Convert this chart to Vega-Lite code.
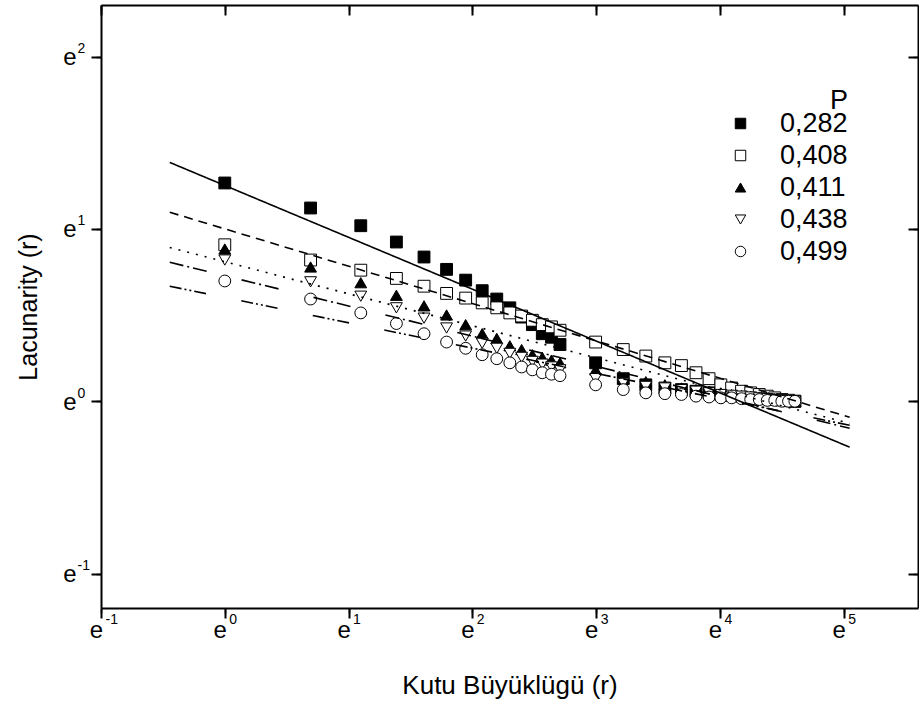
{
 "$schema": "https://vega.github.io/schema/vega-lite/v6.json",
 "width": 817, "height": 603,
 "autosize": {"type": "none"},
 "padding": {"left": 101, "top": 5, "right": 1, "bottom": 105},
 "background": "white",
 "config": {
  "view": {"stroke": null},
  "legend": {"labelFont": "Liberation Sans", "titleFont": "Liberation Sans", "labelFontSize": 27, "titleFontSize": 27, "titleFontWeight": "normal", "labelColor": "black", "titleColor": "black", "symbolSize": 110, "symbolStrokeWidth": 1, "rowPadding": 4, "labelOffset": 26, "titlePadding": -5}
 },
 "datasets": {
  "pts": [
   {"r":1,"L":3.55,"P":"0,282"},{"r":2,"L":3.07,"P":"0,282"},{"r":3,"L":2.77,"P":"0,282"},{"r":4,"L":2.52,"P":"0,282"},{"r":5,"L":2.31,"P":"0,282"},{"r":6,"L":2.15,"P":"0,282"},{"r":7,"L":2.02,"P":"0,282"},{"r":8,"L":1.90,"P":"0,282"},{"r":9,"L":1.81,"P":"0,282"},{"r":10,"L":1.72,"P":"0,282"},{"r":11,"L":1.63,"P":"0,282"},{"r":12,"L":1.56,"P":"0,282"},{"r":13,"L":1.48,"P":"0,282"},{"r":14,"L":1.45,"P":"0,282"},{"r":15,"L":1.39,"P":"0,282"},{"r":20,"L":1.25,"P":"0,282"},{"r":25,"L":1.14,"P":"0,282"},{"r":30,"L":1.10,"P":"0,282"},{"r":35,"L":1.08,"P":"0,282"},{"r":40,"L":1.07,"P":"0,282"},{"r":45,"L":1.06,"P":"0,282"},{"r":50,"L":1.05,"P":"0,282"},{"r":55,"L":1.04,"P":"0,282"},{"r":60,"L":1.035,"P":"0,282"},{"r":65,"L":1.03,"P":"0,282"},{"r":70,"L":1.025,"P":"0,282"},{"r":75,"L":1.02,"P":"0,282"},{"r":80,"L":1.015,"P":"0,282"},{"r":85,"L":1.01,"P":"0,282"},{"r":90,"L":1.007,"P":"0,282"},{"r":95,"L":1.003,"P":"0,282"},{"r":100,"L":1.0,"P":"0,282"},
   {"r":1,"L":2.48,"P":"0,408"},{"r":2,"L":2.27,"P":"0,408"},{"r":3,"L":2.14,"P":"0,408"},{"r":4,"L":2.04,"P":"0,408"},{"r":5,"L":1.95,"P":"0,408"},{"r":6,"L":1.87,"P":"0,408"},{"r":7,"L":1.82,"P":"0,408"},{"r":8,"L":1.77,"P":"0,408"},{"r":9,"L":1.72,"P":"0,408"},{"r":10,"L":1.67,"P":"0,408"},{"r":11,"L":1.64,"P":"0,408"},{"r":12,"L":1.60,"P":"0,408"},{"r":13,"L":1.56,"P":"0,408"},{"r":14,"L":1.54,"P":"0,408"},{"r":15,"L":1.51,"P":"0,408"},{"r":20,"L":1.41,"P":"0,408"},{"r":25,"L":1.35,"P":"0,408"},{"r":30,"L":1.30,"P":"0,408"},{"r":35,"L":1.25,"P":"0,408"},{"r":40,"L":1.23,"P":"0,408"},{"r":45,"L":1.18,"P":"0,408"},{"r":50,"L":1.14,"P":"0,408"},{"r":55,"L":1.10,"P":"0,408"},{"r":60,"L":1.08,"P":"0,408"},{"r":65,"L":1.06,"P":"0,408"},{"r":70,"L":1.05,"P":"0,408"},{"r":75,"L":1.04,"P":"0,408"},{"r":80,"L":1.03,"P":"0,408"},{"r":85,"L":1.02,"P":"0,408"},{"r":90,"L":1.01,"P":"0,408"},{"r":95,"L":1.006,"P":"0,408"},{"r":100,"L":1.0,"P":"0,408"},
   {"r":1,"L":2.42,"P":"0,411"},{"r":2,"L":2.18,"P":"0,411"},{"r":3,"L":1.99,"P":"0,411"},{"r":4,"L":1.85,"P":"0,411"},{"r":5,"L":1.74,"P":"0,411"},{"r":6,"L":1.65,"P":"0,411"},{"r":7,"L":1.56,"P":"0,411"},{"r":8,"L":1.48,"P":"0,411"},{"r":9,"L":1.44,"P":"0,411"},{"r":10,"L":1.38,"P":"0,411"},{"r":11,"L":1.35,"P":"0,411"},{"r":12,"L":1.31,"P":"0,411"},{"r":13,"L":1.29,"P":"0,411"},{"r":14,"L":1.27,"P":"0,411"},{"r":15,"L":1.25,"P":"0,411"},{"r":20,"L":1.20,"P":"0,411"},{"r":25,"L":1.14,"P":"0,411"},{"r":30,"L":1.12,"P":"0,411"},{"r":35,"L":1.10,"P":"0,411"},{"r":40,"L":1.08,"P":"0,411"},{"r":45,"L":1.07,"P":"0,411"},{"r":50,"L":1.06,"P":"0,411"},{"r":55,"L":1.05,"P":"0,411"},{"r":60,"L":1.04,"P":"0,411"},{"r":65,"L":1.035,"P":"0,411"},{"r":70,"L":1.03,"P":"0,411"},{"r":75,"L":1.025,"P":"0,411"},{"r":80,"L":1.02,"P":"0,411"},{"r":85,"L":1.015,"P":"0,411"},{"r":90,"L":1.01,"P":"0,411"},{"r":95,"L":1.005,"P":"0,411"},{"r":100,"L":1.0,"P":"0,411"},
   {"r":1,"L":2.27,"P":"0,438"},{"r":2,"L":2.00,"P":"0,438"},{"r":3,"L":1.84,"P":"0,438"},{"r":4,"L":1.72,"P":"0,438"},{"r":5,"L":1.62,"P":"0,438"},{"r":6,"L":1.53,"P":"0,438"},{"r":7,"L":1.46,"P":"0,438"},{"r":8,"L":1.40,"P":"0,438"},{"r":9,"L":1.36,"P":"0,438"},{"r":10,"L":1.32,"P":"0,438"},{"r":11,"L":1.29,"P":"0,438"},{"r":12,"L":1.26,"P":"0,438"},{"r":13,"L":1.24,"P":"0,438"},{"r":14,"L":1.22,"P":"0,438"},{"r":15,"L":1.20,"P":"0,438"},{"r":20,"L":1.14,"P":"0,438"},{"r":25,"L":1.11,"P":"0,438"},{"r":30,"L":1.09,"P":"0,438"},{"r":35,"L":1.08,"P":"0,438"},{"r":40,"L":1.07,"P":"0,438"},{"r":45,"L":1.06,"P":"0,438"},{"r":50,"L":1.05,"P":"0,438"},{"r":55,"L":1.04,"P":"0,438"},{"r":60,"L":1.035,"P":"0,438"},{"r":65,"L":1.03,"P":"0,438"},{"r":70,"L":1.025,"P":"0,438"},{"r":75,"L":1.02,"P":"0,438"},{"r":80,"L":1.015,"P":"0,438"},{"r":85,"L":1.01,"P":"0,438"},{"r":90,"L":1.007,"P":"0,438"},{"r":95,"L":1.003,"P":"0,438"},{"r":100,"L":1.0,"P":"0,438"},
   {"r":1,"L":2.01,"P":"0,499"},{"r":2,"L":1.81,"P":"0,499"},{"r":3,"L":1.67,"P":"0,499"},{"r":4,"L":1.57,"P":"0,499"},{"r":5,"L":1.48,"P":"0,499"},{"r":6,"L":1.41,"P":"0,499"},{"r":7,"L":1.36,"P":"0,499"},{"r":8,"L":1.31,"P":"0,499"},{"r":9,"L":1.28,"P":"0,499"},{"r":10,"L":1.25,"P":"0,499"},{"r":11,"L":1.22,"P":"0,499"},{"r":12,"L":1.20,"P":"0,499"},{"r":13,"L":1.18,"P":"0,499"},{"r":14,"L":1.17,"P":"0,499"},{"r":15,"L":1.16,"P":"0,499"},{"r":20,"L":1.10,"P":"0,499"},{"r":25,"L":1.07,"P":"0,499"},{"r":30,"L":1.05,"P":"0,499"},{"r":35,"L":1.045,"P":"0,499"},{"r":40,"L":1.04,"P":"0,499"},{"r":45,"L":1.03,"P":"0,499"},{"r":50,"L":1.025,"P":"0,499"},{"r":55,"L":1.02,"P":"0,499"},{"r":60,"L":1.02,"P":"0,499"},{"r":65,"L":1.015,"P":"0,499"},{"r":70,"L":1.01,"P":"0,499"},{"r":75,"L":1.01,"P":"0,499"},{"r":80,"L":1.005,"P":"0,499"},{"r":85,"L":1.005,"P":"0,499"},{"r":90,"L":1.0,"P":"0,499"},{"r":95,"L":1.0,"P":"0,499"},{"r":100,"L":1.0,"P":"0,499"}
  ],
  "fits": [
   {"r":0.641,"L":4.00,"fit":"f282"},{"r":155.7,"L":0.766,"fit":"f282"},
   {"r":0.641,"L":2.995,"fit":"f408"},{"r":155.7,"L":0.911,"fit":"f408"},
   {"r":0.641,"L":2.44,"fit":"f411"},{"r":155.7,"L":0.880,"fit":"f411"},
   {"r":0.641,"L":2.24,"fit":"f438"},{"r":155.7,"L":0.855,"fit":"f438"},
   {"r":0.641,"L":1.95,"fit":"f499"},{"r":155.7,"L":0.870,"fit":"f499"}
  ]
 },
 "resolve": {"axis": {"x": "independent", "y": "independent"}},
 "layer": [
  {
   "data": {"name": "pts"},
   "mark": {"type": "point", "filled": true, "strokeWidth": 1, "size": 140, "opacity": 1},
   "encoding": {
    "x": {"field": "r", "type": "quantitative",
     "scale": {"type": "log", "base": 2.718281828459045, "domain": [0.36787944, 270.4264074], "nice": false, "zero": false},
     "axis": {"orient": "bottom", "grid": false, "tickValues": [0.36787944,1,2.71828183,7.3890561,20.0855369,54.59815,148.4131591],
      "labelExpr": "'e'", "tickSize": 10, "tickColor": "black", "tickWidth": 2, "domainColor": "black", "domainWidth": 2,
      "labelFont": "Liberation Sans", "labelColor": "black", "labelFontSize": 24, "labelPadding": 0, "labelOffset": -5, "labelOverlap": false, "labelFlush": false,
      "title": "Kutu Büyüklügü (r)", "titleFont": "Liberation Sans", "titleColor": "black", "titleFontWeight": "normal", "titleFontSize": 26, "titlePadding": 30}},
    "y": {"field": "L", "type": "quantitative",
     "scale": {"type": "log", "base": 2.718281828459045, "domain": [0.30119421, 9.97418245], "nice": false, "zero": false},
     "axis": {"orient": "left", "grid": false, "tickValues": [0.36787944,1,2.71828183,7.3890561],
      "labelExpr": "'e'", "tickSize": 10, "tickColor": "black", "tickWidth": 2, "domainColor": "black", "domainWidth": 2,
      "labelFont": "Liberation Sans", "labelColor": "black", "labelFontSize": 24, "labelPadding": 15, "labelOffset": 1, "labelOverlap": false, "labelFlush": false,
      "title": "Lacunarity (r)", "titleFont": "Liberation Sans", "titleColor": "black", "titleFontWeight": "normal", "titleFontSize": 25, "titlePadding": 21}},
    "shape": {"field": "P", "type": "nominal",
     "scale": {"domain": ["0,282","0,408","0,411","0,438","0,499"], "range": ["square","square","triangle-up","triangle-down","circle"]},
     "legend": {"title": "P", "orient": "none", "legendX": 626, "legendY": 83, "titleAnchor": "end",
      "labelExpr": "(datum.value=='0,408'||datum.value=='0,499') ? datum.label : '\u00a0\u2009'+datum.label"}},
    "fill": {"field": "P", "type": "nominal",
     "scale": {"domain": ["0,282","0,408","0,411","0,438","0,499"], "range": ["black","white","black","white","white"]},
     "legend": {"title": "P", "orient": "none", "legendX": 626, "legendY": 83, "titleAnchor": "end",
      "labelExpr": "(datum.value=='0,408'||datum.value=='0,499') ? datum.label : '\u00a0\u2009'+datum.label"}},
    "stroke": {"field": "P", "type": "nominal",
     "scale": {"domain": ["0,282","0,408","0,411","0,438","0,499"], "range": ["black","black","black","black","black"]},
     "legend": {"title": "P", "orient": "none", "legendX": 626, "legendY": 83, "titleAnchor": "end",
      "labelExpr": "(datum.value=='0,408'||datum.value=='0,499') ? datum.label : '\u00a0\u2009'+datum.label"}}
   }
  },
  {
   "data": {"name": "fits"},
   "mark": {"type": "line", "color": "black", "strokeWidth": 1.6},
   "encoding": {
    "x": {"field": "r", "type": "quantitative",
     "scale": {"type": "log", "base": 2.718281828459045, "domain": [0.36787944, 270.4264074], "nice": false, "zero": false},
     "axis": {"orient": "bottom", "grid": false, "tickValues": [0.36787944,1,2.71828183,7.3890561,20.0855369,54.59815,148.4131591],
      "labelExpr": "'' + round(log(datum.value))", "ticks": false, "domain": false,
      "labelFont": "Liberation Sans", "labelColor": "black", "labelFontSize": 14, "labelAlign": "left", "labelOffset": 4, "labelPadding": 4, "labelOverlap": false, "labelFlush": false, "title": null}},
    "y": {"field": "L", "type": "quantitative",
     "scale": {"type": "log", "base": 2.718281828459045, "domain": [0.30119421, 9.97418245], "nice": false, "zero": false},
     "axis": {"orient": "left", "grid": false, "tickValues": [0.36787944,1,2.71828183,7.3890561],
      "labelExpr": "'' + round(log(datum.value))", "ticks": false, "domain": false,
      "labelFont": "Liberation Sans", "labelColor": "black", "labelFontSize": 14, "labelAlign": "left", "labelPadding": 24, "labelOffset": -8, "labelOverlap": false, "labelFlush": false, "title": null}},
    "strokeDash": {"field": "fit", "type": "nominal",
     "scale": {"domain": ["f282","f408","f411","f438","f499"], "range": [[1,0],[9,6],[2,7],[14,4,2,4,14,36],[12,3,2,3,2,3,12,36]]},
     "legend": null}
   }
  },
  {
   "data": {"name": "fits"},
   "mark": {"type": "point", "opacity": 0},
   "encoding": {
    "x": {"field": "r", "type": "quantitative",
     "scale": {"type": "log", "base": 2.718281828459045, "domain": [0.36787944, 270.4264074], "nice": false, "zero": false},
     "axis": {"orient": "bottom", "grid": false,
      "tickValues": [0.438115,0.50835,0.578587,0.648822,0.719057,0.789293,0.859529,0.929764,1.19092,1.38184,1.572761,1.763681,1.954601,2.145521,2.336441,2.527362,3.237256,3.75623,4.275204,4.794178,5.313152,5.832126,6.3511,6.870074,8.799776,10.210496,11.621216,13.031936,14.442656,15.853376,17.264096,18.674816,23.920267,27.754997,31.589727,35.424457,39.259187,43.093917,46.928647,50.763377,65.02203,75.44591,85.86979,96.29367,106.71755,117.14143,127.56531,137.98919,176.7482,205.0832,233.4182,261.7532],
      "labels": false, "domain": false, "tickSize": 5, "tickColor": "black", "tickWidth": 1.5, "title": null}},
    "y": {"field": "L", "type": "quantitative",
     "scale": {"type": "log", "base": 2.718281828459045, "domain": [0.30119421, 9.97418245], "nice": false, "zero": false},
     "axis": {"orient": "left", "grid": false,
      "tickValues": [0.3162,0.34204,0.438115,0.50835,0.578587,0.648822,0.719057,0.789293,0.859529,0.929764,1.19092,1.38184,1.572761,1.763681,1.954601,2.145521,2.336441,2.527362,3.237256,3.75623,4.275204,4.794178,5.313152,5.832126,6.3511,6.870074,8.799776],
      "labels": false, "domain": false, "tickSize": 5, "tickColor": "black", "tickWidth": 1.5, "title": null}}
   }
  },
  {
   "data": {"name": "fits"},
   "mark": {"type": "point", "opacity": 0},
   "encoding": {
    "x": {"field": "r", "type": "quantitative",
     "scale": {"type": "log", "base": 2.718281828459045, "domain": [0.36787944, 270.4264074], "nice": false, "zero": false},
     "axis": {"orient": "top", "grid": false, "tickValues": [0.36787944,1,2.71828183,7.3890561,20.0855369,54.59815,148.4131591],
      "labels": false, "tickSize": -10, "tickColor": "black", "tickWidth": 2, "domainColor": "black", "domainWidth": 2, "title": null}},
    "y": {"field": "L", "type": "quantitative",
     "scale": {"type": "log", "base": 2.718281828459045, "domain": [0.30119421, 9.97418245], "nice": false, "zero": false},
     "axis": {"orient": "right", "grid": false, "tickValues": [0.36787944,1,2.71828183,7.3890561],
      "labels": false, "tickSize": -10, "tickColor": "black", "tickWidth": 2, "domainColor": "black", "domainWidth": 2, "title": null}}
   }
  },
  {
   "data": {"name": "fits"},
   "mark": {"type": "point", "opacity": 0},
   "encoding": {
    "x": {"field": "r", "type": "quantitative",
     "scale": {"type": "log", "base": 2.718281828459045, "domain": [0.36787944, 270.4264074], "nice": false, "zero": false},
     "axis": {"orient": "top", "grid": false,
      "tickValues": [0.438115,0.50835,0.578587,0.648822,0.719057,0.789293,0.859529,0.929764,1.19092,1.38184,1.572761,1.763681,1.954601,2.145521,2.336441,2.527362,3.237256,3.75623,4.275204,4.794178,5.313152,5.832126,6.3511,6.870074,8.799776,10.210496,11.621216,13.031936,14.442656,15.853376,17.264096,18.674816,23.920267,27.754997,31.589727,35.424457,39.259187,43.093917,46.928647,50.763377,65.02203,75.44591,85.86979,96.29367,106.71755,117.14143,127.56531,137.98919,176.7482,205.0832,233.4182,261.7532],
      "labels": false, "domain": false, "tickSize": -5, "tickColor": "black", "tickWidth": 1.5, "title": null}},
    "y": {"field": "L", "type": "quantitative",
     "scale": {"type": "log", "base": 2.718281828459045, "domain": [0.30119421, 9.97418245], "nice": false, "zero": false},
     "axis": {"orient": "right", "grid": false,
      "tickValues": [0.3162,0.34204,0.438115,0.50835,0.578587,0.648822,0.719057,0.789293,0.859529,0.929764,1.19092,1.38184,1.572761,1.763681,1.954601,2.145521,2.336441,2.527362,3.237256,3.75623,4.275204,4.794178,5.313152,5.832126,6.3511,6.870074,8.799776],
      "labels": false, "domain": false, "tickSize": -5, "tickColor": "black", "tickWidth": 1.5, "title": null}}
   }
  }
 ]
}
